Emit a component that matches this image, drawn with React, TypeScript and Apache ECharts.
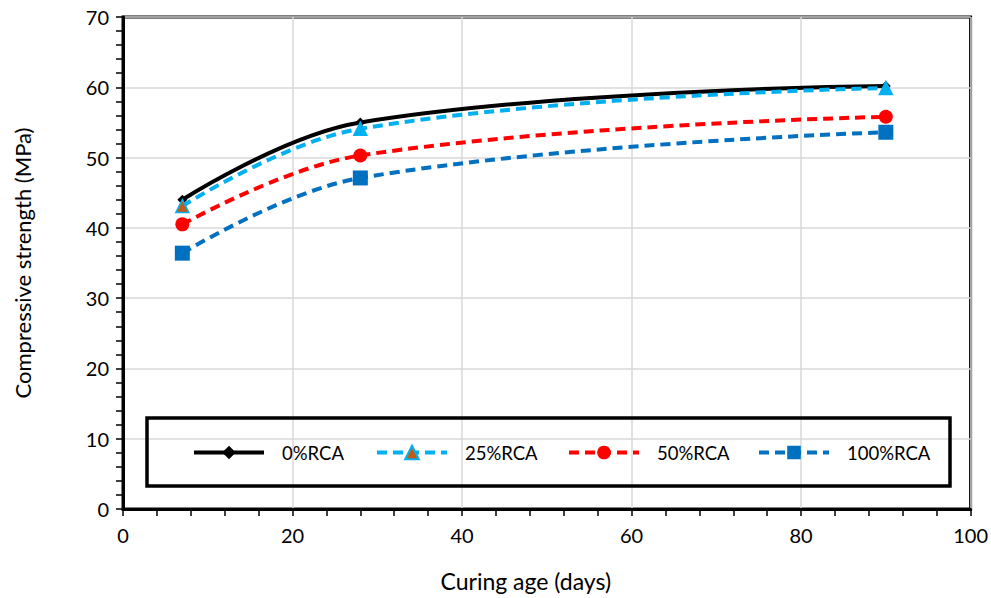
import React, { useEffect, useRef } from "react";
import * as echarts from "echarts";

const days = [7, 28, 90];
const rca0 = [44.0, 55.0, 60.2];
const rca25 = [43.1, 54.1, 59.9];
const rca50 = [40.5, 50.3, 55.8];
const rca100 = [36.4, 47.1, 53.6];
const seriesNames = ["0%RCA", "25%RCA", "50%RCA", "100%RCA"];

const FONT = "Lato";

export default function App() {
  const ref = useRef<HTMLDivElement>(null);
  useEffect(() => {
    document.body.style.margin = "0";
    const chart = echarts.init(ref.current!, undefined, { renderer: "svg" });
    const pts = (ys: number[]) => days.map((d, i) => [d, ys[i]]);
    const dash = [10, 6];
    const LW = 4;
    const legendLefts = [192, 375, 567, 757];
    const option: any = {
      animation: false,
      backgroundColor: "#fff",
      grid: {
        left: 123,
        right: 20,
        top: 17,
        bottom: 89,
        show: true,
        borderColor: "#000",
        borderWidth: 3,
        backgroundColor: "transparent",
      },
      xAxis: {
        type: "value",
        min: 0,
        max: 100,
        interval: 20,
        name: "Curing age (days)",
        nameLocation: "middle",
        nameGap: 60,
        nameTextStyle: { fontFamily: FONT, fontSize: 23, color: "#000", padding: [0, 42, 0, 0] },
        axisLine: { show: true, lineStyle: { color: "#000", width: 3 } },
        axisTick: { show: true, length: 7, lineStyle: { color: "#000", width: 1.5 } },
        minorTick: { show: true, splitNumber: 5, length: 7, lineStyle: { color: "#000", width: 1.5 } },
        axisLabel: { fontFamily: FONT, fontSize: 20, color: "#000", margin: 16 },
        splitLine: { show: true, lineStyle: { color: "#d9d9d9", width: 1.5 } },
      },
      yAxis: {
        type: "value",
        min: 0,
        max: 70,
        interval: 10,
        name: "Compressive strength (MPa)",
        nameLocation: "middle",
        nameGap: 90,
        nameTextStyle: { fontFamily: FONT, fontSize: 22, color: "#000" },
        axisLine: { show: true, lineStyle: { color: "#000", width: 3 } },
        axisTick: { show: true, length: 7, lineStyle: { color: "#000", width: 1.5 } },
        minorTick: { show: true, splitNumber: 5, length: 7, lineStyle: { color: "#000", width: 1.5 } },
        axisLabel: { fontFamily: FONT, fontSize: 20, color: "#000", margin: 14 },
        splitLine: { show: true, lineStyle: { color: "#d9d9d9", width: 1.5 } },
      },
      legend: seriesNames.map((n, i) => ({
        data: [n],
        left: legendLefts[i],
        top: 443,
        padding: 0,
        itemWidth: 70,
        itemHeight: 17,
        lineStyle: { width: LW },
        textStyle: { fontFamily: FONT, fontSize: 18.5, color: "#000", padding: [0, 0, 0, 13] },
      })),
      graphic: [
        {
          type: "rect",
          shape: { x: 147, y: 418, width: 803, height: 68 },
          style: { fill: "none", stroke: "#000", lineWidth: 3.5 },
          z: 10,
        },
      ],
      series: [
        {
          name: seriesNames[0],
          type: "line",
          smooth: 0.4,
          data: pts(rca0),
          symbol: "diamond",
          symbolSize: 10,
          itemStyle: { color: "#000" },
          lineStyle: { color: "#000", width: LW, type: "solid" },
          z: 4,
        },
        {
          name: seriesNames[1],
          type: "line",
          smooth: 0.4,
          data: days.map((d, i) =>
            i === 0
              ? { value: [d, rca25[i]] }
              : { value: [d, rca25[i]], itemStyle: { color: "#00B0F0" } }
          ),
          symbol: "triangle",
          symbolSize: 13,
          itemStyle: { color: "#C55A11", borderColor: "#00B0F0", borderWidth: 1.5 },
          lineStyle: { color: "#00B0F0", width: LW, type: dash },
          z: 5,
        },
        {
          name: seriesNames[2],
          type: "line",
          smooth: 0.4,
          data: pts(rca50),
          symbol: "circle",
          symbolSize: 14,
          itemStyle: { color: "#FF0000" },
          lineStyle: { color: "#FF0000", width: LW, type: dash },
          z: 3,
        },
        {
          name: seriesNames[3],
          type: "line",
          smooth: 0.4,
          data: pts(rca100),
          symbol: "rect",
          symbolSize: 15,
          itemStyle: { color: "#0070C0" },
          lineStyle: { color: "#0070C0", width: LW, type: dash },
          z: 3,
        },
      ],
    };
    chart.setOption(option);
    return () => chart.dispose();
  }, []);
  return <div ref={ref} style={{ width: 991, height: 598 }} />;
}
